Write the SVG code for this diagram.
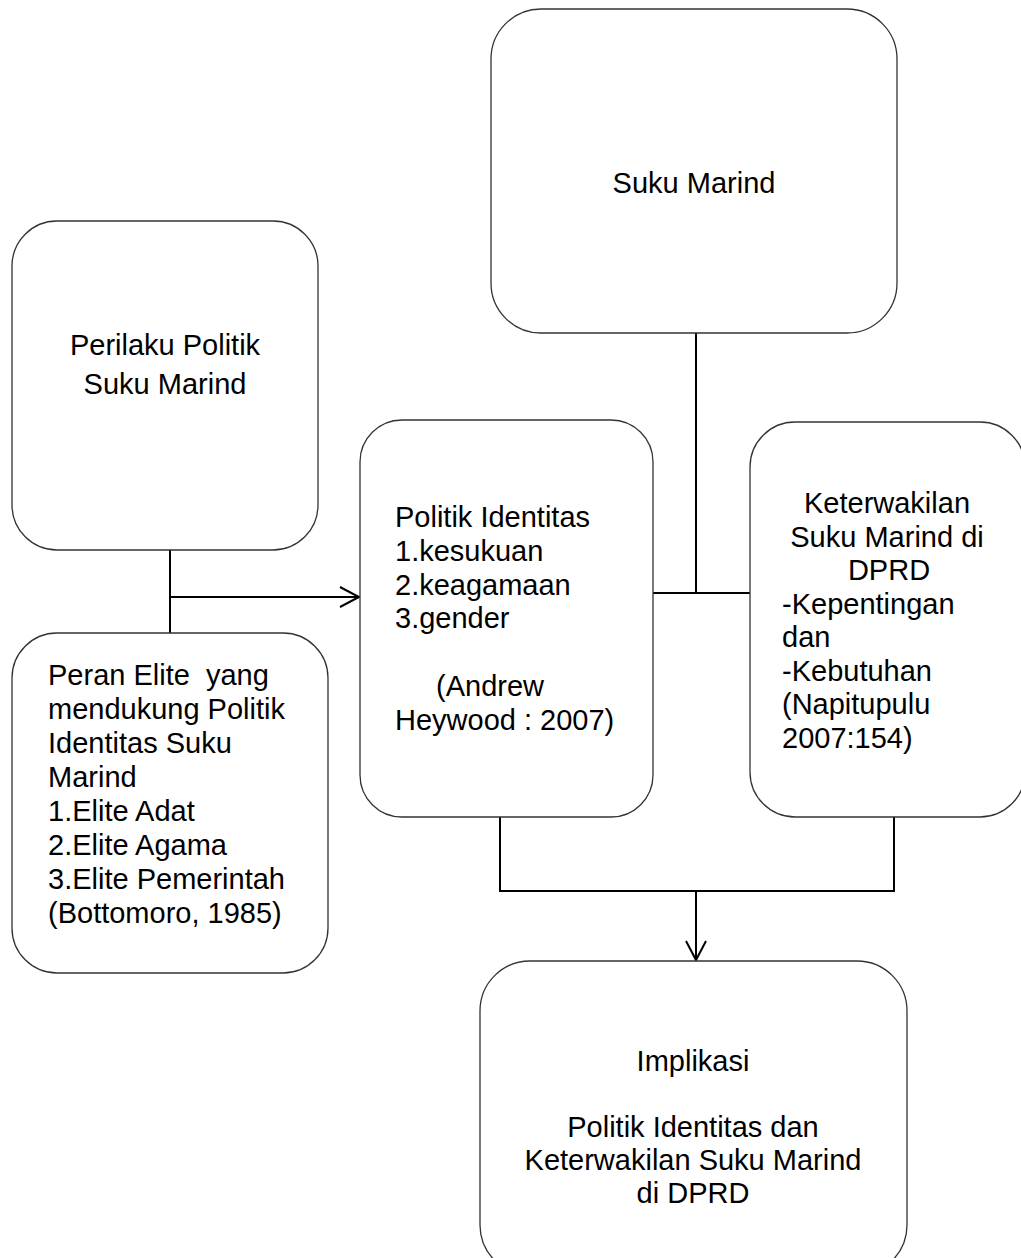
<svg xmlns="http://www.w3.org/2000/svg" width="1021" height="1258" viewBox="0 0 1021 1258">
<style>
.box{fill:#fff;stroke:#333;stroke-width:1.3}
.t{font-family:"Liberation Sans",Arial,sans-serif;font-size:29px;fill:#000;white-space:pre}
.c{text-anchor:middle}
.ln{fill:none;stroke:#000;stroke-width:2}
</style>
<defs>
<marker id="arr" markerWidth="24" markerHeight="24" refX="20" refY="11" orient="auto" markerUnits="userSpaceOnUse">
<path d="M1,1 L20,11 L1,21" fill="none" stroke="#000" stroke-width="2"/>
</marker>
</defs>
<rect width="1021" height="1258" fill="#fff"/>
<g id="connectors">
<line class="ln" x1="170" y1="550" x2="170" y2="633"/>
<line class="ln" x1="170" y1="597" x2="359" y2="597" marker-end="url(#arr)"/>
<line class="ln" x1="696" y1="333" x2="696" y2="593"/>
<line class="ln" x1="653" y1="593" x2="750" y2="593"/>
<polyline class="ln" points="500,817 500,891 894,891 894,817"/>
<line class="ln" x1="696" y1="891" x2="696" y2="960" marker-end="url(#arr)"/>
</g>
<g id="suku-marind">
<rect class="box" x="491" y="9" width="406" height="324" rx="50" ry="50"/>
<text class="t c" x="694" y="193">Suku Marind</text>
</g>
<g id="perilaku">
<rect class="box" x="12" y="221" width="306" height="329" rx="45" ry="45"/>
<text class="t c" x="165" y="355">Perilaku Politik</text>
<text class="t c" x="165" y="394">Suku Marind</text>
</g>
<g id="peran-elite">
<rect class="box" x="12" y="633" width="316" height="340" rx="45" ry="45"/>
<text class="t" x="48" y="685" xml:space="preserve">Peran Elite  yang</text>
<text class="t" x="48" y="719">mendukung Politik</text>
<text class="t" x="48" y="753">Identitas Suku</text>
<text class="t" x="48" y="787">Marind</text>
<text class="t" x="48" y="821">1.Elite Adat</text>
<text class="t" x="48" y="855">2.Elite Agama</text>
<text class="t" x="48" y="889">3.Elite Pemerintah</text>
<text class="t" x="48" y="923">(Bottomoro, 1985)</text>
</g>
<g id="politik-identitas">
<rect class="box" x="360" y="420" width="293" height="397" rx="42" ry="42"/>
<text class="t" x="395" y="527">Politik Identitas</text>
<text class="t" x="395" y="561">1.kesukuan</text>
<text class="t" x="395" y="595">2.keagamaan</text>
<text class="t" x="395" y="628">3.gender</text>
<text class="t" x="436" y="696">(Andrew</text>
<text class="t" x="395" y="730">Heywood : 2007)</text>
</g>
<g id="keterwakilan">
<rect class="box" x="750" y="422" width="275" height="395" rx="45" ry="45"/>
<text class="t c" x="887" y="513">Keterwakilan</text>
<text class="t c" x="887" y="547">Suku Marind di</text>
<text class="t c" x="889" y="580">DPRD</text>
<text class="t" x="782" y="614">-Kepentingan</text>
<text class="t" x="782" y="647">dan</text>
<text class="t" x="782" y="681">-Kebutuhan</text>
<text class="t" x="782" y="714">(Napitupulu</text>
<text class="t" x="782" y="748">2007:154)</text>
</g>
<g id="implikasi">
<rect class="box" x="480" y="961" width="427" height="314" rx="50" ry="50"/>
<text class="t c" x="693" y="1071">Implikasi</text>
<text class="t c" x="693" y="1137">Politik Identitas dan</text>
<text class="t c" x="693" y="1170">Keterwakilan Suku Marind</text>
<text class="t c" x="693" y="1203">di DPRD</text>
</g>
</svg>
